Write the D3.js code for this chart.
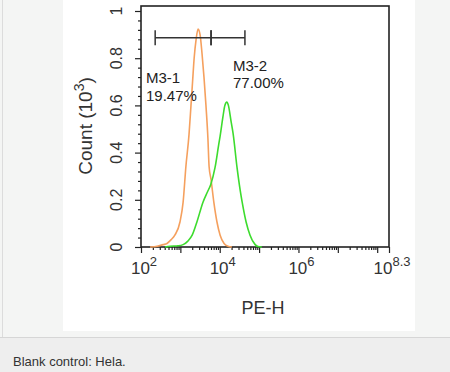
<!DOCTYPE html>
<html><head><meta charset="utf-8">
<script src="https://cdn.jsdelivr.net/npm/d3@7"></script>
<style>
html,body{margin:0;padding:0;}
body{width:450px;height:372px;overflow:hidden;background:#fff;font-family:"Liberation Sans",Arial,sans-serif;}
</style></head>
<body>
<svg id="chart" width="450" height="372"></svg>
<script>
// log10(PE-H) exponents and counts (x10^3)
const blankLog = [2.23,2.41,2.56,2.66,2.76,2.86,2.99,3.07,3.14,3.22,3.27,3.31,3.35,3.40,3.45,3.50,3.55,3.60,3.65,3.70,3.73,3.78,3.85,3.93,4.01,4.11,4.21,4.31];
const blankCount = [0,0.003,0.01,0.015,0.03,0.05,0.106,0.19,0.34,0.477,0.6,0.7,0.8,0.88,0.923,0.9,0.82,0.72,0.6,0.46,0.34,0.285,0.19,0.106,0.05,0.015,0.003,0];
const sampleLog = [2.61,2.74,2.94,3.07,3.19,3.30,3.42,3.575,3.69,3.77,3.88,3.98,4.01,4.08,4.13,4.18,4.22,4.29,4.34,4.44,4.52,4.57,4.67,4.77,4.90,4.97,5.07];
const sampleCount = [0,0.003,0.005,0.01,0.025,0.05,0.106,0.19,0.234,0.264,0.336,0.44,0.47,0.55,0.6,0.614,0.6,0.53,0.48,0.336,0.24,0.19,0.106,0.05,0.01,0.002,0];
const gateNames = ["M3-1","M3-2"];
const gatePercents = ["19.47%","77.00%"];
const gateStartLog = [2.36,3.78];
const gateEndLog = [3.78,4.64];
const gateLevel = 0.887;
const xTickExps = [2,4,6,8.3];
const yTicks = [0,0.2,0.4,0.6,0.8,1];

const svg = d3.select("#chart");
// page backgrounds
svg.append("rect").attr("x",0).attr("y",0).attr("width",450).attr("height",337).attr("fill","#f4f5f4");
svg.append("line").attr("x1",2.5).attr("x2",2.5).attr("y1",0).attr("y2",337).attr("stroke","#dcdcdc");
svg.append("rect").attr("x",63).attr("y",0).attr("width",352).attr("height",331).attr("fill","#fff");
svg.append("rect").attr("x",0).attr("y",337).attr("width",450).attr("height",35).attr("fill","#eeeeee");
svg.append("line").attr("x1",0).attr("x2",450).attr("y1",337.5).attr("y2",337.5).attr("stroke","#d6d6d6");
svg.append("text").attr("x",13).attr("y",366).attr("font-size",13).attr("fill","#333")
  .attr("font-family","Liberation Sans, Arial, sans-serif").text("Blank control: Hela.");

const L=141, R=389, T=6, B=247;
const x = d3.scaleLog().domain([100, Math.pow(10,8.3)]).range([L,R]);
const y = d3.scaleLinear().domain([0,1]).range([B,11]);

const g = svg.append("g").attr("font-family","Liberation Sans, Arial, sans-serif");

// frame
g.append("rect").attr("x",L).attr("y",T).attr("width",R-L).attr("height",B-T)
  .attr("fill","none").attr("stroke","#222").attr("stroke-width",1.6);

// x axis ticks
const majorX = d3.range(2,9).map(e=>Math.pow(10,e));
const minorX = [];
for(let e=2;e<=8;e++) for(let m=2;m<=9;m++){ const v=m*Math.pow(10,e); if(v<=Math.pow(10,8.3)) minorX.push(v); }
const xAxisMinor = d3.axisBottom(x).tickValues(minorX).tickSize(3).tickFormat("");
const xAxisMajor = d3.axisBottom(x).tickValues(majorX.concat([Math.pow(10,8.3)])).tickSize(6).tickFormat("");
[xAxisMinor,xAxisMajor].forEach(ax=>{
  const a=g.append("g").attr("transform",`translate(0,${B})`).call(ax);
  a.select(".domain").remove();
  a.selectAll("line").attr("stroke","#222").attr("stroke-width",1.2);
});
// x labels
const xl = g.append("g");
xTickExps.forEach(e=>{
  const t = xl.append("text").attr("x",x(Math.pow(10,e))+3).attr("y",274)
    .attr("text-anchor","middle").attr("fill","#333").attr("font-size",17);
  t.append("tspan").text("10");
  t.append("tspan").attr("dy",-8).attr("font-size",13).text(e===8.3?"8.3":String(e));
});
g.append("text").attr("x",263).attr("y",314).attr("text-anchor","middle").attr("font-size",18)
  .attr("fill","#333").text("PE-H");

// y axis ticks
const minorY = d3.range(0,1.0001,0.04).filter(v=>Math.abs(v*5-Math.round(v*5))>1e-6);
const yAxisMinor = d3.axisLeft(y).tickValues(minorY).tickSize(3).tickFormat("");
const yAxisMajor = d3.axisLeft(y).tickValues(yTicks).tickSize(6).tickFormat("");
[yAxisMinor,yAxisMajor].forEach(ax=>{
  const a=g.append("g").attr("transform",`translate(${L},0)`).call(ax);
  a.select(".domain").remove();
  a.selectAll("line").attr("stroke","#222").attr("stroke-width",1.2);
});
yTicks.forEach(v=>{
  g.append("text").attr("transform",`translate(122,${y(v)}) rotate(-90)`)
    .attr("text-anchor","middle").attr("font-size",16).attr("fill","#333")
    .text(v===0?"0":v===1?"1":d3.format(".1f")(v));
});
const yt = g.append("text").attr("transform",`translate(92,126) rotate(-90)`)
  .attr("text-anchor","middle").attr("font-size",19).attr("fill","#333");
yt.append("tspan").text("Count (10");
yt.append("tspan").attr("dy",-8).attr("font-size",14).text("3");
yt.append("tspan").attr("dy",8).text(")");

// curves
const line = d3.line().x(d=>x(Math.pow(10,d[0]))).y(d=>y(d[1])).curve(d3.curveMonotoneX);
g.append("path").datum(blankLog.map((v,i)=>[v,blankCount[i]]))
  .attr("d",line).attr("fill","none").attr("stroke","#f5a05e").attr("stroke-width",1.6);
g.append("path").datum(sampleLog.map((v,i)=>[v,sampleCount[i]]))
  .attr("d",line).attr("fill","none").attr("stroke","#3ddc2e").attr("stroke-width",1.6);

// gates
const gy = y(gateLevel);
gateNames.forEach((n,i)=>{
  const x0=x(Math.pow(10,gateStartLog[i])), x1=x(Math.pow(10,gateEndLog[i]));
  g.append("line").attr("x1",x0).attr("x2",x1).attr("y1",gy).attr("y2",gy).attr("stroke","#333").attr("stroke-width",1.5);
  [x0,x1].forEach(xx=>g.append("line").attr("x1",xx).attr("x2",xx).attr("y1",gy-7.5).attr("y2",gy+7.5).attr("stroke","#333").attr("stroke-width",1.5));
});
const labelPos = [[146,83,101],[233,71,88]];
gateNames.forEach((n,i)=>{
  g.append("text").attr("x",labelPos[i][0]).attr("y",labelPos[i][1]).attr("font-size",15).attr("fill","#222").text(n);
  g.append("text").attr("x",labelPos[i][0]).attr("y",labelPos[i][2]).attr("font-size",15).attr("fill","#222").text(gatePercents[i]);
});
</script>
</body></html>
